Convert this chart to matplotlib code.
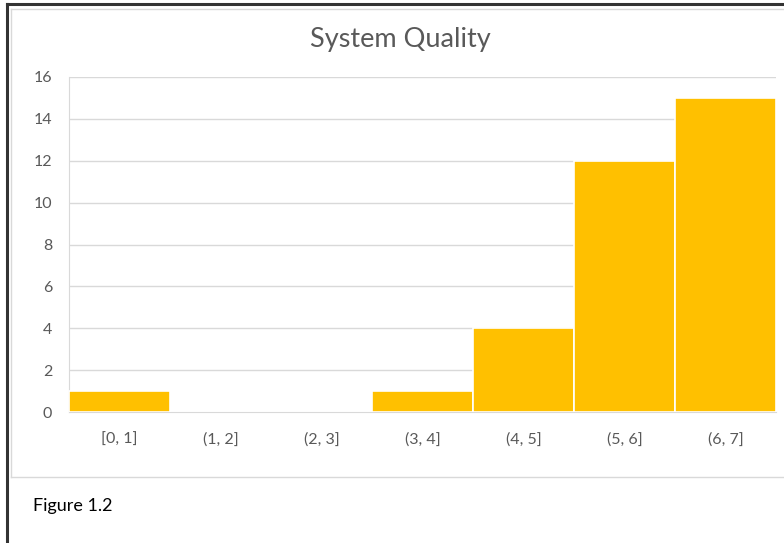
import matplotlib
matplotlib.use("Agg")
import matplotlib.pyplot as plt
from matplotlib.lines import Line2D

# histogram of system quality scores
bins = ["[0, 1]", "(1, 2]", "(2, 3]", "(3, 4]", "(4, 5]", "(5, 6]", "(6, 7]"]
counts = [1, 0, 0, 1, 4, 12, 15]
y_ticks = [0, 2, 4, 6, 8, 10, 12, 14, 16]

W, H = 784, 543
fig = plt.figure(figsize=(W / 100, H / 100), dpi=100)
plt.rcParams["font.family"] = ["Lato", "DejaVu Sans"]

def fx(px):
    return px / W

def fy(py):
    return 1 - py / H

# outer frame (dark) and chart frame (light gray)
fig.add_artist(Line2D([fx(7), fx(7)], [fy(4), 0], color="#333333", lw=2.2))
fig.add_artist(Line2D([fx(7), 1], [fy(4), fy(4)], color="#333333", lw=2.2))
fig.add_artist(Line2D([fx(11), fx(11)], [fy(9), fy(477)], color="#d9d9d9", lw=1))
fig.add_artist(Line2D([fx(11), 1], [fy(9), fy(9)], color="#d9d9d9", lw=1))
fig.add_artist(Line2D([fx(11), 1], [fy(477), fy(477)], color="#d9d9d9", lw=1))

left, right, top, bottom = 69, 776, 77, 412
ax = fig.add_axes([fx(left), fy(bottom), fx(right - left), (bottom - top) / H])

x = range(len(bins))
ax.bar(x, counts, width=1.0, color="#FFC000", edgecolor="white", linewidth=1.2, zorder=3)
ax.set_xlim(-0.5, len(bins) - 0.5)
ax.set_ylim(0, 16)
ax.set_yticks(y_ticks)
ax.set_xticks(list(x))
ax.set_xticklabels(bins)
ax.tick_params(axis="both", length=0, labelsize=11.5, labelcolor="#595959")
ax.tick_params(axis="x", pad=15)
ax.tick_params(axis="y", pad=12)
ax.grid(axis="y", color="#d9d9d9", lw=1, zorder=0)
for side in ["top", "right"]:
    ax.spines[side].set_visible(False)
ax.spines["left"].set_color("#d9d9d9")
ax.spines["bottom"].set_color("#d9d9d9")

fig.text(fx(400), fy(40), "System Quality", ha="center", va="center",
         fontsize=19.5, color="#595959")
fig.text(fx(33), fy(506), "Figure 1.2", ha="left", va="center",
         fontsize=13, color="#000000")

fig.savefig("out.png", dpi=100)
